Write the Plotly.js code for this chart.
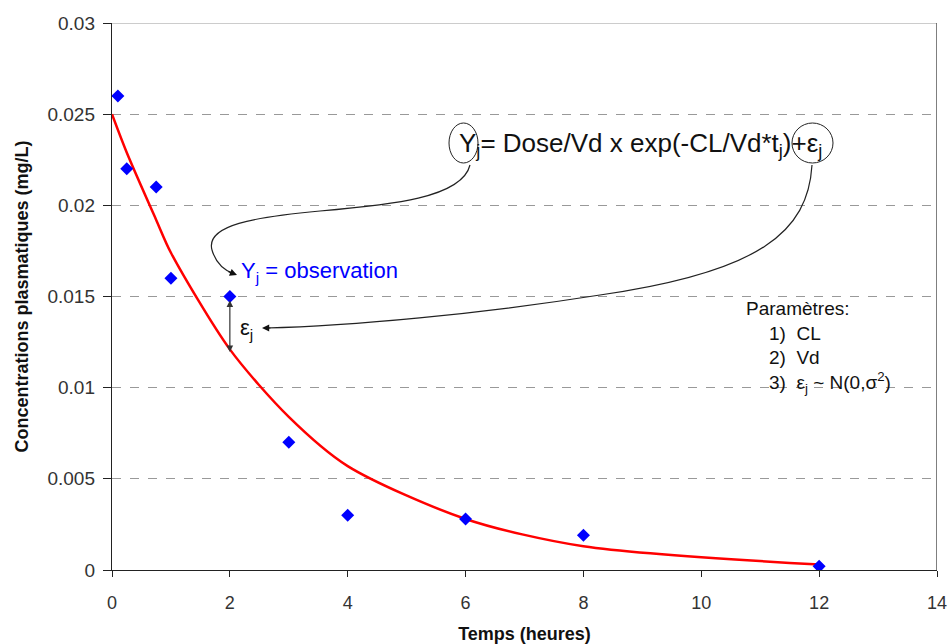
<!DOCTYPE html>
<html>
<head>
<meta charset="utf-8">
<script src="https://cdn.plot.ly/plotly-3.0.1.min.js"></script>
<style>html,body{margin:0;padding:0;background:#fff;}#chart{width:948px;height:644px;}</style>
</head>
<body>
<div id="chart"></div>
<script>
// Observations
const obsTime = [0.1, 0.25, 0.75, 1, 2, 3, 4, 6, 8, 12];
const obsConc = [0.026, 0.022, 0.021, 0.016, 0.015, 0.007, 0.003, 0.0028, 0.0019, 0.0002];
// Model prediction
const predTime = [0, 0.25, 0.75, 1, 2, 3, 4, 6, 8, 12];
const predConc = [0.025, 0.0229, 0.0192, 0.0174, 0.0121, 0.0084, 0.0057, 0.0028, 0.0013, 0.0003];
const xTicks = [0, 2, 4, 6, 8, 10, 12, 14];
const yTicks = [0, 0.005, 0.01, 0.015, 0.02, 0.025, 0.03];

const W = 948, H = 644;
const M = {l: 112, r: 11, t: 23, b: 74};
const X0 = 0, X1 = 14, Y0 = 0, Y1 = 0.03;
const pw = W - M.l - M.r, ph = H - M.t - M.b;
function dx(px) { return X0 + (px - M.l) / pw * (X1 - X0); }
function dy(py) { return Y0 + (H - M.b - py) / ph * (Y1 - Y0); }
function P(px, py) { return dx(px) + ',' + dy(py); }

const font = "Liberation Sans, Arial, sans-serif";
const narrow = "Liberation Sans Narrow, Arial Narrow, Liberation Sans, Arial, sans-serif";

const traces = [
  {x: predTime, y: predConc, mode: 'lines', line: {color: '#ff0000', width: 2.5, shape: 'spline', smoothing: 0.8},
   hoverinfo: 'skip', showlegend: false},
  {x: obsTime, y: obsConc, mode: 'markers', marker: {symbol: 'diamond', color: '#0000ff', size: 10},
   showlegend: false}
];

const curve1 = 'M' + P(470,165) + ' C' + P(462,198) + ' ' + P(390,205) + ' ' + P(320,211) +
               ' C' + P(255,217) + ' ' + P(205,225) + ' ' + P(212,250) +
               ' C' + P(216,264) + ' ' + P(226,271) + ' ' + P(234,274);
const curve2 = 'M' + P(812,165) + ' C' + P(808,232) + ' ' + P(760,272) + ' ' + P(600,295) +
               ' C' + P(480,314) + ' ' + P(350,326) + ' ' + P(266,328);

const shapes = [
  {type: 'line', xref: 'x', yref: 'y', x0: 0, x1: 14, y0: 0.03, y1: 0.03, line: {color: '#999', width: 1}},
  {type: 'line', xref: 'x', yref: 'y', x0: 14, x1: 14, y0: 0, y1: 0.03, line: {color: '#555', width: 1.5}},
  {type: 'circle', xref: 'x', yref: 'y', x0: dx(449), x1: dx(478), y0: dy(163), y1: dy(123), line: {color: '#222', width: 1}},
  {type: 'circle', xref: 'x', yref: 'y', x0: dx(792), x1: dx(833), y0: dy(163), y1: dy(123), line: {color: '#222', width: 1}},
  {type: 'path', xref: 'x', yref: 'y', path: curve1, line: {color: '#222', width: 1.2}},
  {type: 'path', xref: 'x', yref: 'y', path: curve2, line: {color: '#222', width: 1.2}}
];

const annotations = [
  {x: dx(457), y: dy(144), xref: 'x', yref: 'y', xanchor: 'left', yanchor: 'middle', showarrow: false,
   text: 'Y<sub>j</sub>= Dose/Vd x exp(-CL/Vd*t<sub>j</sub>)+ε<sub>j</sub>', font: {family: font, size: 26, color: '#111'}},
  {x: dx(239), y: dy(272), xref: 'x', yref: 'y', xanchor: 'left', yanchor: 'middle', showarrow: false,
   text: 'Y<sub>j</sub> = observation', font: {family: font, size: 22, color: '#0000ff'}},
  {x: dx(238), y: dy(329), xref: 'x', yref: 'y', xanchor: 'left', yanchor: 'middle', showarrow: false,
   text: 'ε<sub>j</sub>', font: {family: font, size: 22, color: '#111'}},
  // arrowheads
  {x: dx(237), y: dy(275), xref: 'x', yref: 'y', ax: -10, ay: -4, text: '', showarrow: true,
   arrowhead: 2, arrowsize: 1.2, arrowwidth: 1.2, arrowcolor: '#111'},
  {x: dx(262), y: dy(328), xref: 'x', yref: 'y', ax: 10, ay: 0, text: '', showarrow: true,
   arrowhead: 2, arrowsize: 1.2, arrowwidth: 1.2, arrowcolor: '#111'},
  // epsilon double arrow
  {x: 2, y: dy(352), xref: 'x', yref: 'y', ax: 2, ay: dy(299), axref: 'x', ayref: 'y', text: '', showarrow: true,
   arrowhead: 2, startarrowhead: 2, arrowside: 'end+start', arrowsize: 1.1, arrowwidth: 1.2, arrowcolor: '#333'},
  // parameters
  {x: dx(744), y: dy(308), xref: 'x', yref: 'y', xanchor: 'left', yanchor: 'middle', showarrow: false,
   text: 'Paramètres:', font: {family: font, size: 19, color: '#111'}},
  {x: dx(767), y: dy(333), xref: 'x', yref: 'y', xanchor: 'left', yanchor: 'middle', showarrow: false,
   text: '1)  CL', font: {family: font, size: 19, color: '#111'}},
  {x: dx(767), y: dy(357), xref: 'x', yref: 'y', xanchor: 'left', yanchor: 'middle', showarrow: false,
   text: '2)  Vd', font: {family: font, size: 19, color: '#111'}},
  {x: dx(767), y: dy(382), xref: 'x', yref: 'y', xanchor: 'left', yanchor: 'middle', showarrow: false,
   text: '3)  ε<sub>j</sub> ~ N(0,σ<sup>2</sup>)', font: {family: font, size: 19, color: '#111'}}
];

const layout = {
  width: W, height: H,
  margin: {l: M.l, r: M.r, t: M.t, b: M.b, pad: 0},
  paper_bgcolor: '#fff', plot_bgcolor: '#fff',
  showlegend: false,
  xaxis: {
    range: [X0, X1], tickvals: xTicks, ticktext: xTicks.map(String),
    showgrid: false, zeroline: false, showline: true, linecolor: '#222', linewidth: 1.2,
    ticks: 'outside', ticklen: 6, tickcolor: '#222', ticklabelstandoff: 10, ticklabeloverflow: 'allow',
    tickfont: {family: narrow, size: 18, color: '#333'},
    title: {text: '<b>Temps (heures)</b>', font: {family: narrow, size: 18, color: '#111'}, standoff: 15}
  },
  yaxis: {
    range: [Y0, Y1], tickvals: yTicks, ticktext: yTicks.map(String),
    showgrid: true, gridcolor: '#999', griddash: 'dash', gridwidth: 1,
    zeroline: false, showline: true, linecolor: '#222', linewidth: 1.2,
    ticks: 'outside', ticklen: 8, tickcolor: '#222', ticklabelstandoff: 4,
    tickfont: {family: font, size: 19, color: '#333'},
    title: {text: '<b>Concentrations plasmatiques (mg/L)</b>', font: {family: font, size: 18, color: '#111'}, standoff: 14}
  },
  shapes: shapes,
  annotations: annotations
};

Plotly.newPlot('chart', traces, layout, {displayModeBar: false, staticPlot: true});
</script>
</body>
</html>
